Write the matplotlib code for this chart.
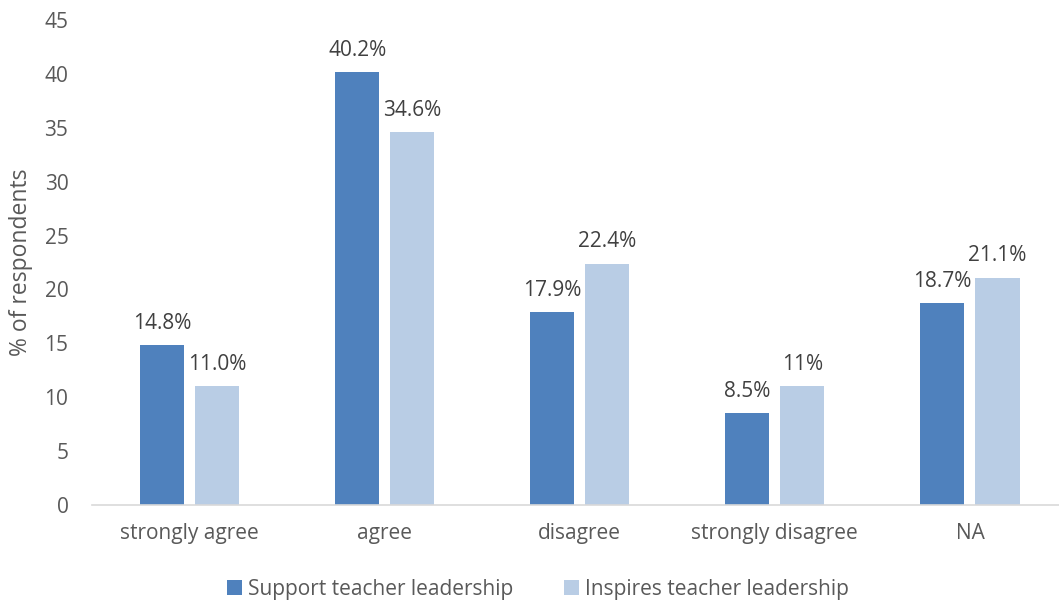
import numpy as np
from matplotlib import pyplot as plt

categories = ['strongly agree', 'agree', 'disagree', 'strongly disagree', 'NA']
support = [14.8, 40.2, 17.9, 8.5, 18.7]
inspires = [11.0, 34.6, 22.4, 11.0, 21.1]
support_labels = ['14.8%', '40.2%', '17.9%', '8.5%', '18.7%']
inspires_labels = ['11.0%', '34.6%', '22.4%', '11%', '21.1%']

dark_blue = '#4F81BD'
light_blue = '#B9CDE5'
text_grey = '#595959'

plt.rcParams['font.family'] = ['Open Sans', 'DejaVu Sans']

fig = plt.figure(figsize=(10.59, 6.03), dpi=100)
ax = fig.add_axes([92 / 1059, 98 / 603, 975.5 / 1059, 485 / 603])

x = np.arange(len(categories))
width = 0.226
offset = 0.141

b1 = ax.bar(x - offset, support, width, color=dark_blue, label='Support teacher leadership')
b2 = ax.bar(x + offset, inspires, width, color=light_blue, label='Inspires teacher leadership')

# value labels above each bar
for bars, labels in [(b1, support_labels), (b2, inspires_labels)]:
    for bar, lab in zip(bars, labels):
        ax.annotate(lab, (bar.get_x() + bar.get_width() / 2, bar.get_height()),
                    xytext=(0, 8), textcoords='offset points', ha='center', va='bottom',
                    fontsize=15, color='#404040')

ax.set_xlim(-0.5, len(categories) - 0.5)
ax.set_ylim(0, 45)
ax.set_yticks(range(0, 46, 5))
ax.set_xticks(x)
ax.set_xticklabels(categories)
ax.tick_params(axis='both', length=0, labelsize=15, labelcolor=text_grey)
ax.tick_params(axis='x', pad=13)
ax.tick_params(axis='y', pad=17)

for side in ['top', 'right', 'left']:
    ax.spines[side].set_visible(False)
ax.spines['bottom'].set_color('#D9D9D9')
ax.spines['bottom'].set_linewidth(1.2)

ax.set_ylabel('% of respondents', fontsize=16.5, color=text_grey, labelpad=8)

fig.legend(handles=[b1, b2], loc='center', bbox_to_anchor=(538 / 1059, 1 - 589 / 603),
           ncol=2, frameon=False, fontsize=15, labelcolor=text_grey,
           handlelength=0.7, handleheight=0.7, handletextpad=0.3, columnspacing=2.45)

plt.savefig('out.png', dpi=100)
